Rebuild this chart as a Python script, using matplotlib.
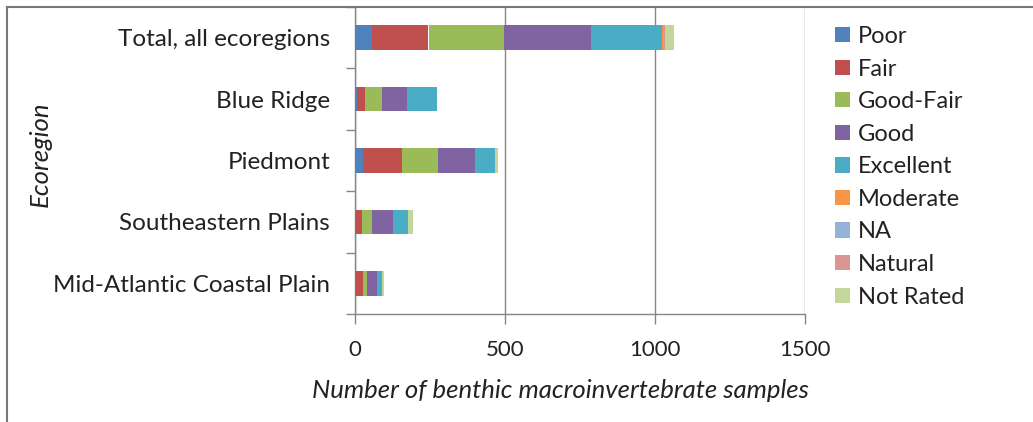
import matplotlib
matplotlib.use("Agg")
import matplotlib.pyplot as plt
from matplotlib.lines import Line2D
from matplotlib.patches import Patch

plt.rcParams["font.family"] = ["Lato", "DejaVu Sans"]

ecoregions = ["Total, all ecoregions", "Blue Ridge", "Piedmont",
              "Southeastern Plains", "Mid-Atlantic Coastal Plain"]
conditions = ["Poor", "Fair", "Good-Fair", "Good", "Excellent",
              "Moderate", "NA", "Natural", "Not Rated"]

poor      = [58, 5, 26, 3, 3]
fair      = [187, 28, 130, 19, 23]
good_fair = [253, 56, 122, 34, 13]
good      = [288, 83, 122, 72, 33]
excellent = [238, 100, 67, 50, 17]
moderate  = [2, 0, 0, 0, 0]
na        = [2, 0, 0, 0, 0]
natural   = [5, 0, 0, 0, 0]
not_rated = [30, 3, 11, 14, 8]

series = [poor, fair, good_fair, good, excellent, moderate, na, natural, not_rated]
colors = ["#4F81BD", "#C0504D", "#9BBB59", "#8064A2", "#4BACC6",
          "#F79646", "#95B3D7", "#D99694", "#C3D69B"]

TXT = "#222222"

fig = plt.figure(figsize=(10.33, 4.22), dpi=100)
ax = fig.add_axes([355 / 1033, 1 - 314 / 422, 450 / 1033, 307 / 422])

ypos = list(range(len(ecoregions)))
left = [0] * len(ecoregions)
for vals, col, name in zip(series, colors, conditions):
    ax.barh(ypos, vals, left=left, height=0.4, color=col, label=name,
            edgecolor="none", zorder=3)
    left = [a + b for a, b in zip(left, vals)]

ax.set_xlim(0, 1500)
ax.set_ylim(len(ecoregions) - 0.5, -0.5)
ax.set_xticks([0, 500, 1000, 1500])
ax.set_xticklabels(["0", "500", "1000", "1500"])
ax.set_yticks(ypos)
ax.set_yticklabels(ecoregions)
ax.set_yticks([i - 0.5 for i in range(len(ecoregions) + 1)], minor=True)

for s in ["top", "right"]:
    ax.spines[s].set_visible(False)
for s in ["left", "bottom"]:
    ax.spines[s].set_color("#868686")
    ax.spines[s].set_linewidth(1)

ax.grid(axis="x", color="#868686", linewidth=1, zorder=0)
ax.tick_params(axis="y", which="major", length=0, pad=18, labelsize=17.5,
               labelcolor=TXT)
ax.tick_params(axis="y", which="minor", length=6.5, color="#868686", width=1)
ax.tick_params(axis="x", length=7, color="#868686", width=1, pad=12,
               labelsize=16, labelcolor=TXT)

ax.set_xlabel("Number of benthic macroinvertebrate samples", fontsize=18.5,
              style="italic", color=TXT, va="center")
ax.xaxis.set_label_coords((560 - 355) / 450, -(390 - 314) / 307)
fig.text(40 / 1033, 1 - 154 / 422, "Ecoregion", rotation=90, fontsize=18.5,
         style="italic", color=TXT, ha="center", va="center")

handles = [Patch(facecolor=c, edgecolor="none") for c in colors]
leg = fig.legend(handles, conditions, loc="upper left",
                 bbox_to_anchor=(835 / 1033, 1 - 26 / 422),
                 frameon=False, fontsize=17, handlelength=0.62,
                 handleheight=0.62, handletextpad=0.35, labelspacing=0.49,
                 borderaxespad=0, borderpad=0)
for t in leg.get_texts():
    t.set_color(TXT)

# outer chart frame (top and left edges)
fig.add_artist(Line2D([7 / 1033, 7 / 1033], [0, 1 - 7 / 422],
                      transform=fig.transFigure, color="#777777", lw=1.5))
fig.add_artist(Line2D([7 / 1033, 1.0], [1 - 7 / 422, 1 - 7 / 422],
                      transform=fig.transFigure, color="#777777", lw=1.5))

fig.savefig("out.png", dpi=100)
